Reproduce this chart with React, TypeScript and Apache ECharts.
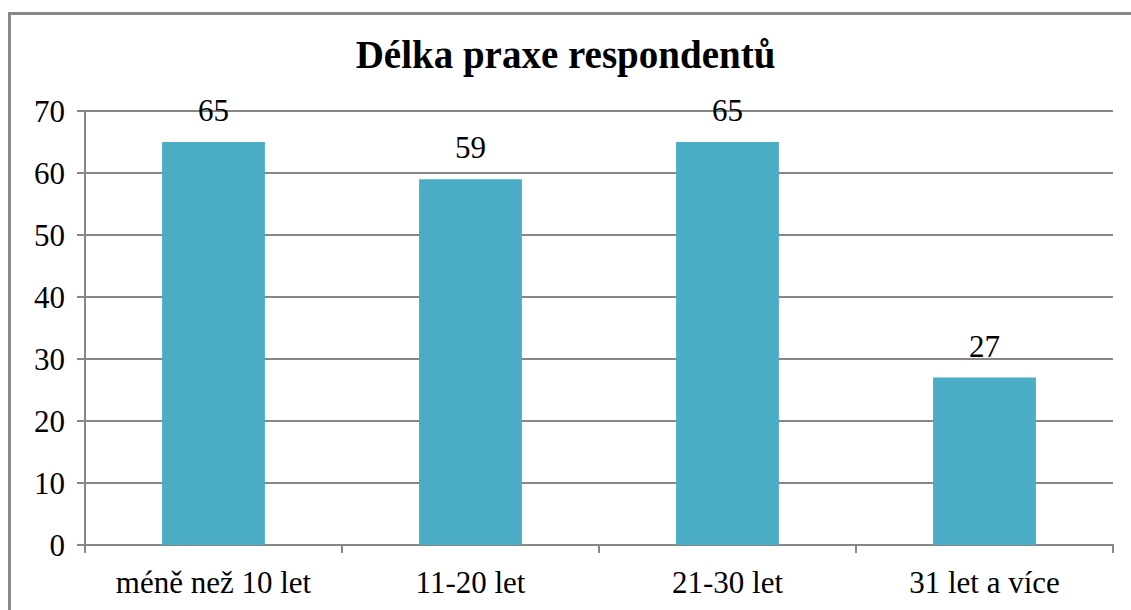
import React, { useEffect, useRef } from "react";
import * as echarts from "echarts";

const categories = ["méně než 10 let", "11-20 let", "21-30 let", "31 let a více"];
const values = [65, 59, 65, 27];
const yTicks = { min: 0, max: 70, interval: 10 };
const title = "Délka praxe respondentů";

export default function App() {
  const ref = useRef<HTMLDivElement>(null);
  useEffect(() => {
    if (!ref.current) return;
    const chart = echarts.init(ref.current, null, { renderer: "svg" });
    const font = "Times New Roman, Liberation Serif, serif";
    chart.setOption({
      animation: false,
      backgroundColor: "#ffffff",
      textStyle: { fontFamily: font },
      title: {
        text: title,
        left: "center",
        top: 30,
        textStyle: { fontFamily: font, fontSize: 39, fontWeight: "bold", color: "#000" },
      },
      graphic: [
        {
          type: "rect",
          shape: { x: 9.5, y: 13.5, width: 1200, height: 700 },
          style: { fill: "none", stroke: "#878787", lineWidth: 3 },
          silent: true,
        },
      ],
      grid: { left: 85, right: 18, top: 111, bottom: 65, containLabel: false },
      xAxis: {
        type: "category",
        data: categories,
        axisLine: { lineStyle: { color: "#878787", width: 2 } },
        axisTick: { show: true, length: 8, alignWithLabel: false, lineStyle: { color: "#878787", width: 2 } },
        axisLabel: { fontFamily: font, fontSize: 31, color: "#000", margin: 22 },
      },
      yAxis: {
        type: "value",
        min: yTicks.min,
        max: yTicks.max,
        interval: yTicks.interval,
        axisLine: { show: true, lineStyle: { color: "#878787", width: 2 } },
        axisTick: { show: true, length: 8, lineStyle: { color: "#878787", width: 2 } },
        axisLabel: { fontFamily: font, fontSize: 31, color: "#000", margin: 20 },
        splitLine: { show: true, lineStyle: { color: "#878787", width: 2 } },
      },
      series: [
        {
          type: "bar",
          data: values,
          barWidth: "40%",
          itemStyle: { color: "#4BACC6" },
          label: {
            show: true,
            position: "top",
            distance: 16,
            fontFamily: font,
            fontSize: 31,
            color: "#000",
          },
        },
      ],
    });
    return () => chart.dispose();
  }, []);
  return (
    <div
      ref={ref}
      style={{ position: "fixed", left: 0, top: 0, width: 1131, height: 610 }}
    />
  );
}
